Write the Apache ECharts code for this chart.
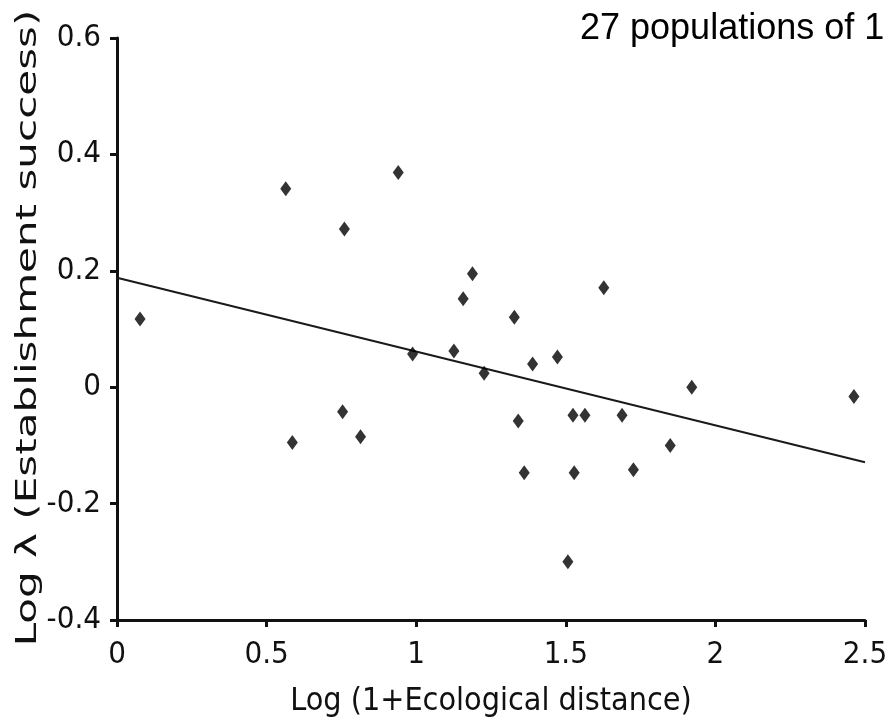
<!DOCTYPE html>
<html>
<head>
<meta charset="utf-8">
<script src="https://cdn.jsdelivr.net/npm/echarts@6/dist/echarts.min.js"></script>
<style>
html,body{margin:0;padding:0;background:#fff;}
#show_chart{width:889px;height:721px;}
</style>
</head>
<body>
<div id="show_chart"></div>
<script>
// 点数据 (27 populations)
var xData = [0.077, 0.564, 0.940, 0.760, 1.188, 1.157, 1.328, 0.988, 1.126, 1.227, 1.389, 0.754, 0.814, 0.586, 1.341,
	1.472, 1.627, 1.524, 1.564, 1.688, 1.921, 2.463, 1.361, 1.528, 1.726, 1.849, 1.507];
var yData = [0.117, 0.341, 0.369, 0.272, 0.195, 0.152, 0.120, 0.057, 0.062, 0.024, 0.040, -0.042, -0.085, -0.095, -0.058,
	0.052, 0.171, -0.048, -0.048, -0.048, 0.000, -0.016, -0.147, -0.147, -0.142, -0.100, -0.300];
// 回归线
var fitX = [0, 2.5];
var fitY = [0.188, -0.129];

function buildPairs(xs, ys){
	var arr = [];
	for (var i = 0; i < xs.length; i++) {
		arr.push([xs[i], ys[i]]);
	}
	return arr;
}

function axisStyle(){
	return {
		axisLine : {show:true, onZero:false, lineStyle:{color:'#111', width:3}},
		axisTick : {show:true, inside:false, length:7, lineStyle:{color:'#111', width:3}},
		splitLine : {show:false}
	};
}

var xAxisCfg = axisStyle();
xAxisCfg.type = 'value';
xAxisCfg.min = 0;
xAxisCfg.max = 2.5;
xAxisCfg.interval = 0.5;
xAxisCfg.name = 'Log (1+Ecological distance)';
xAxisCfg.nameLocation = 'middle';
xAxisCfg.nameGap = 66;
xAxisCfg.nameTextStyle = {fontFamily:'DejaVu Sans Condensed', fontSize:32, color:'#111'};
xAxisCfg.axisLabel = {margin:19, fontFamily:'DejaVu Sans Condensed', fontSize:31, color:'#111'};

var yAxisCfg = axisStyle();
yAxisCfg.type = 'value';
yAxisCfg.min = -0.4;
yAxisCfg.max = 0.6;
yAxisCfg.interval = 0.2;
yAxisCfg.axisLabel = {margin:16, fontFamily:'DejaVu Sans Condensed', fontSize:31, color:'#111',
	formatter:function(v){ return String(Math.round(v*10)/10); }};

var option = {
	animation : false,
	backgroundColor : '#fff',
	title : {
		text : '27 populations of 1',
		left : 575,
		top : 6,
		textStyle : {fontFamily:'Liberation Sans', fontSize:36, fontWeight:'normal', color:'#000'}
	},
	grid : {left:117, right:24, top:38, bottom:101, containLabel:false, outerBoundsMode:'none'},
	xAxis : xAxisCfg,
	yAxis : yAxisCfg,
	// y轴标题 (原图纵向拉伸，用graphic文字拉长)
	graphic : [
		{
			type : 'text',
			x : 28,
			y : 328,
			rotation : Math.PI / 2,
			scaleX : 1.45,
			style : {
				text : 'Log \u03bb (Establishment success)',
				fontFamily : 'DejaVu Sans',
				fontSize : 29,
				fill : '#111',
				textAlign : 'center',
				textVerticalAlign : 'middle'
			}
		}
	],
	series : [
		{
			type : 'line',
			data : buildPairs(fitX, fitY),
			symbol : 'none',
			lineStyle : {color:'#1a1a1a', width:2},
			z : 2
		},
		{
			type : 'scatter',
			data : buildPairs(xData, yData),
			symbol : 'diamond',
			symbolSize : [11, 15],
			itemStyle : {color:'#000'},
			z : 3
		}
	]
};

var chart = echarts.init(document.getElementById('show_chart'));
chart.setOption(option);
</script>
</body>
</html>
